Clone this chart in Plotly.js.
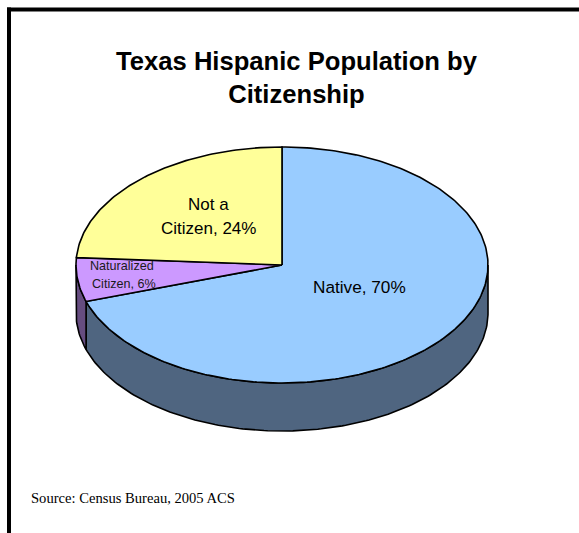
<!DOCTYPE html>
<html>
<head>
<meta charset="utf-8">
<script src="https://cdn.plot.ly/plotly-3.0.1.min.js"></script>
<style>html,body{margin:0;padding:0;background:#fff}#chart{width:579px;height:533px}</style>
</head>
<body>
<div id="chart"></div>
<script>
// Data
var categories = ["Native", "Naturalized Citizen", "Not a Citizen"];
var values = [70, 6, 24];
var nativeLabel = ["Native, 70%"];
var naturalizedLabel = ["Naturalized", "Citizen, 6%"];
var notCitizenLabel = ["Not a", "Citizen, 24%"];
var topColors = ["#99CCFF", "#CC99FF", "#FFFF99"];
var sideColors = ["#4F6580", "#664D80", "#80804D"];
var titleText = "Texas Hispanic Population by<br>Citizenship";
var sourceText = "Source: Census Bureau, 2005 ACS";

// Geometry of the tilted disc, in pixels of the 579x533 picture
var W = 579, H = 533, CX = 282, CY = 265, RX = 206, RY = 118, DEPTH = 48;

function rim(deg) {
  var r = deg * Math.PI / 180;
  return [Math.sin(r), Math.cos(r)];
}
function range(a, b) {
  var out = [], n = Math.max(2, Math.ceil(Math.abs(b - a)));
  for (var i = 0; i <= n; i++) out.push(a + (b - a) * i / n);
  return out;
}
var total = values.reduce(function (s, v) { return s + v; }, 0);
var traces = [], start = 0, tops = [];
values.forEach(function (v, i) {
  var a = start, b = start + 360 * v / total;
  start = b;
  // visible wall: the part of the rim in the front half (90..270 degrees)
  var sa = Math.max(a, 90), sb = Math.min(b, 270);
  if (sb > sa) {
    var arc = range(sa, sb).map(rim);
    var xs = arc.map(function (p) { return p[0]; });
    var ys = arc.map(function (p) { return p[1]; });
    var xb = xs.slice().reverse();
    var yb = ys.slice().reverse().map(function (y) { return y - DEPTH / RY; });
    traces.push({
      type: "scatter", mode: "lines", name: categories[i] + " wall",
      x: xs.concat(xb, [xs[0]]), y: ys.concat(yb, [ys[0]]),
      fill: "toself", fillcolor: sideColors[i],
      line: { color: "#000", width: 1.6 }, hoverinfo: "skip", showlegend: false
    });
  }
  var top = range(a, b).map(rim);
  tops.push({
    type: "scatter", mode: "lines", name: categories[i],
    x: [0].concat(top.map(function (p) { return p[0]; }), [0]),
    y: [0].concat(top.map(function (p) { return p[1]; }), [0]),
    fill: "toself", fillcolor: topColors[i],
    line: { color: "#000", width: 1.6 }, hoverinfo: "skip", showlegend: false
  });
});
traces = traces.concat(tops);

function label(text, px, py, size, color) {
  return {
    text: text, xref: "paper", yref: "paper", x: px / W, y: 1 - py / H,
    xanchor: "center", yanchor: "middle", showarrow: false, align: "center",
    font: { family: "Liberation Sans, Arial, sans-serif", size: size, color: color || "#000" }
  };
}
var labels = [
  label(nativeLabel[0], 359, 287, 17.2),
  label(notCitizenLabel[0], 208, 204, 17),
  label(notCitizenLabel[1], 208, 228, 17),
  label(naturalizedLabel[0], 122, 266, 12.6, "#1a1a1a"),
  label(naturalizedLabel[1], 123.5, 284, 12.6, "#1a1a1a"),
  {
    text: sourceText, xref: "paper", yref: "paper", x: 29 / W, y: 1 - 498 / H,
    xanchor: "left", yanchor: "middle", showarrow: false,
    font: { family: "Liberation Serif, Times New Roman, serif", size: 14.6, color: "#000" }
  }
];

var layout = {
  width: W, height: H,
  margin: { l: 0, r: 0, t: 0, b: 0 },
  paper_bgcolor: "#fff", plot_bgcolor: "#fff",
  showlegend: false,
  title: {
    text: titleText, x: 296.5 / W, xanchor: "center", y: 1 - 70 / H, yanchor: "middle",
    font: { family: "Liberation Sans, Arial, sans-serif", size: 25.6, color: "#000", weight: 700 }
  },
  xaxis: { range: [-CX / RX, (W - CX) / RX], visible: false, fixedrange: true },
  yaxis: { range: [(CY - H) / RY, CY / RY], visible: false, fixedrange: true },
  annotations: labels,
  shapes: [
    { type: "line", xref: "paper", yref: "paper", x0: 7 / W, x1: 1, y0: 1 - 9.4 / H, y1: 1 - 9.4 / H, line: { color: "#000", width: 4 } },
    { type: "line", xref: "paper", yref: "paper", x0: 9 / W, x1: 9 / W, y0: 1 - 7.4 / H, y1: 0, line: { color: "#000", width: 4 } }
  ]
};
Plotly.newPlot("chart", traces, layout, { displayModeBar: false, staticPlot: true });
</script>
</body>
</html>
